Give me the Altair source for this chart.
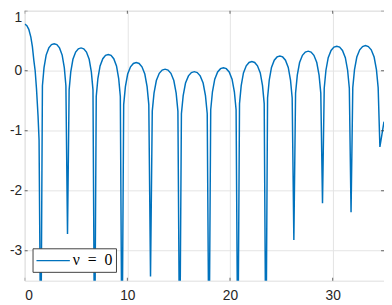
import altair as alt
import pandas as pd

# ---- values ----
seg0_x = [0.0, 0.2, 0.4, 0.6, 0.75, 0.9, 1.02, 1.15, 1.3, 1.4]
seg0_y = [0.776, 0.755, 0.69, 0.56, 0.40, 0.16, 0.0, -0.3, -0.75, -1.15]

cusp_x = [1.571, 4.171, 6.810, 9.476, 12.257, 15.095, 17.952, 20.762, 23.495, 26.219, 29.010, 31.790, 34.600]
cusp_y = [-5, -2.72, -5, -5, -3.43, -5, -5, -5, -5, -2.82, -2.21, -2.36, -1.27]

lobe1_x = [1.727, 1.883, 2.091, 2.351, 2.611, 2.871, 3.131, 3.391, 3.651, 3.859, 4.015]
lobe1_y = [-0.25, 0.05, 0.26, 0.38, 0.435, 0.45, 0.435, 0.38, 0.26, 0.05, -0.25]
lobe2_x = [4.329, 4.488, 4.699, 4.963, 5.227, 5.491, 5.754, 6.018, 6.282, 6.493, 6.652]
lobe2_y = [-0.32, -0.02, 0.19, 0.31, 0.365, 0.38, 0.365, 0.31, 0.19, -0.02, -0.32]
lobe3_x = [6.970, 7.130, 7.343, 7.610, 7.876, 8.143, 8.410, 8.676, 8.943, 9.156, 9.316]
lobe3_y = [-0.43, -0.13, 0.08, 0.20, 0.256, 0.271, 0.256, 0.20, 0.08, -0.13, -0.43]
lobe4_x = [9.643, 9.810, 10.032, 10.310, 10.588, 10.867, 11.145, 11.423, 11.701, 11.923, 12.090]
lobe4_y = [-0.565, -0.265, -0.055, 0.065, 0.12, 0.135, 0.12, 0.065, -0.055, -0.265, -0.565]
lobe5_x = [12.427, 12.598, 12.825, 13.108, 13.392, 13.676, 13.960, 14.244, 14.527, 14.754, 14.925]
lobe5_y = [-0.674, -0.374, -0.164, -0.044, 0.011, 0.026, 0.011, -0.044, -0.164, -0.374, -0.674]
lobe6_x = [15.266, 15.438, 15.666, 15.952, 16.238, 16.524, 16.809, 17.095, 17.381, 17.609, 17.781]
lobe6_y = [-0.716, -0.416, -0.206, -0.086, -0.031, -0.016, -0.031, -0.086, -0.206, -0.416, -0.716]
lobe7_x = [18.121, 18.289, 18.514, 18.795, 19.076, 19.357, 19.638, 19.919, 20.200, 20.425, 20.593]
lobe7_y = [-0.651, -0.351, -0.141, -0.021, 0.034, 0.049, 0.034, -0.021, -0.141, -0.351, -0.651]
lobe8_x = [20.926, 21.090, 21.309, 21.582, 21.855, 22.129, 22.402, 22.675, 22.948, 23.167, 23.331]
lobe8_y = [-0.548, -0.248, -0.038, 0.082, 0.137, 0.152, 0.137, 0.082, -0.038, -0.248, -0.548]
lobe9_x = [23.658, 23.822, 24.040, 24.312, 24.585, 24.857, 25.129, 25.402, 25.674, 25.892, 26.056]
lobe9_y = [-0.455, -0.155, 0.055, 0.175, 0.23, 0.245, 0.23, 0.175, 0.055, -0.155, -0.455]
lobe10_x = [26.386, 26.554, 26.777, 27.056, 27.335, 27.615, 27.894, 28.173, 28.452, 28.675, 28.843]
lobe10_y = [-0.374, -0.074, 0.136, 0.256, 0.311, 0.326, 0.311, 0.256, 0.136, -0.074, -0.374]
lobe11_x = [29.177, 29.344, 29.566, 29.844, 30.122, 30.400, 30.678, 30.956, 31.234, 31.456, 31.623]
lobe11_y = [-0.292, 0.008, 0.218, 0.338, 0.393, 0.408, 0.393, 0.338, 0.218, 0.008, -0.292]
lobe12_x = [31.959, 32.127, 32.352, 32.633, 32.914, 33.195, 33.476, 33.757, 34.038, 34.263, 34.431]
lobe12_y = [-0.282, 0.018, 0.228, 0.348, 0.403, 0.418, 0.403, 0.348, 0.228, 0.018, -0.282]
end_x = [35.0]
end_y = [-0.85]

x_ticks = [0, 10, 20, 30]
y_ticks = [-3, -2, -1, 0, 1]
series_name = "ν\u2002=\u20020"

all_x = (seg0_x + cusp_x + lobe1_x + lobe2_x + lobe3_x + lobe4_x + lobe5_x + lobe6_x
         + lobe7_x + lobe8_x + lobe9_x + lobe10_x + lobe11_x + lobe12_x + end_x)
all_y = (seg0_y + cusp_y + lobe1_y + lobe2_y + lobe3_y + lobe4_y + lobe5_y + lobe6_y
         + lobe7_y + lobe8_y + lobe9_y + lobe10_y + lobe11_y + lobe12_y + end_y)

df = pd.DataFrame({"x": all_x, "y": all_y, "s": series_name}).sort_values("x")
xt = pd.DataFrame({"v": x_ticks})
yt = pd.DataFrame({"v": y_ticks})

AX = "#262626"
GRID = "#e3e3e3"
BLUE = "#0072BD"
xscale = alt.Scale(domain=[0, 35], nice=False, zero=False)
yscale = alt.Scale(domain=[-3.5, 1], nice=False, zero=False)

xaxis = alt.Axis(values=x_ticks, grid=True, domain=False, ticks=False, labelPadding=8,
                 labelFontSize=14, labelFont="Liberation Sans", labelColor=AX,
                 gridColor=GRID)
yaxis = alt.Axis(values=y_ticks, grid=True, domain=False, ticks=False, labelPadding=3,
                 labelFontSize=14, labelFont="Liberation Sans", labelColor=AX,
                 gridColor=GRID, labelOverlap=False,
                 labelBaseline=alt.condition("datum.value == 1", alt.value("top"), alt.value("middle")),
                 labelExpr="datum.value < 0 ? '-' + abs(datum.value) : '' + datum.value")

line = alt.Chart(df).mark_line(clip=True, strokeWidth=1.5).encode(
    x=alt.X("x:Q", scale=xscale, axis=xaxis, title=None),
    y=alt.Y("y:Q", scale=yscale, axis=yaxis, title=None),
    color=alt.Color("s:N", scale=alt.Scale(range=[BLUE]), title=None,
                    legend=alt.Legend(orient="none", legendX=8, legendY=242,
                                      symbolType="M-1,0H3", symbolSize=289,
                                      symbolStrokeWidth=1.3, symbolStrokeColor=BLUE,
                                      labelFont="Liberation Serif",
                                      labelFontSize=16, labelColor="#000000", padding=3,
                                      strokeColor="#404040", fillColor="white",
                                      labelOffset=19, cornerRadius=0)),
)

tick_style = dict(clip=True, color=AX, thickness=1, size=6)
bx = alt.Chart(xt).mark_tick(orient="vertical", **tick_style).encode(
    x=alt.X("v:Q", title=None), y=alt.datum(-3.5))
tx = alt.Chart(xt).mark_tick(orient="vertical", **tick_style).encode(
    x=alt.X("v:Q", title=None), y=alt.datum(1))
ly = alt.Chart(yt).mark_tick(orient="horizontal", **tick_style).encode(
    y=alt.Y("v:Q", title=None), x=alt.datum(0))
ry = alt.Chart(yt).mark_tick(orient="horizontal", **tick_style).encode(
    y=alt.Y("v:Q", title=None), x=alt.datum(35))

chart = alt.layer(line, bx, tx, ly, ry).properties(
    width=366, height=275,
    autosize=alt.AutoSizeParams(type="none"),
    padding={"left": 17, "top": 0, "right": 0, "bottom": 22},
).configure_view(stroke=AX, strokeWidth=1).configure(background="white")

chart.save("out.html", embed_options={"renderer": "svg", "actions": False})
